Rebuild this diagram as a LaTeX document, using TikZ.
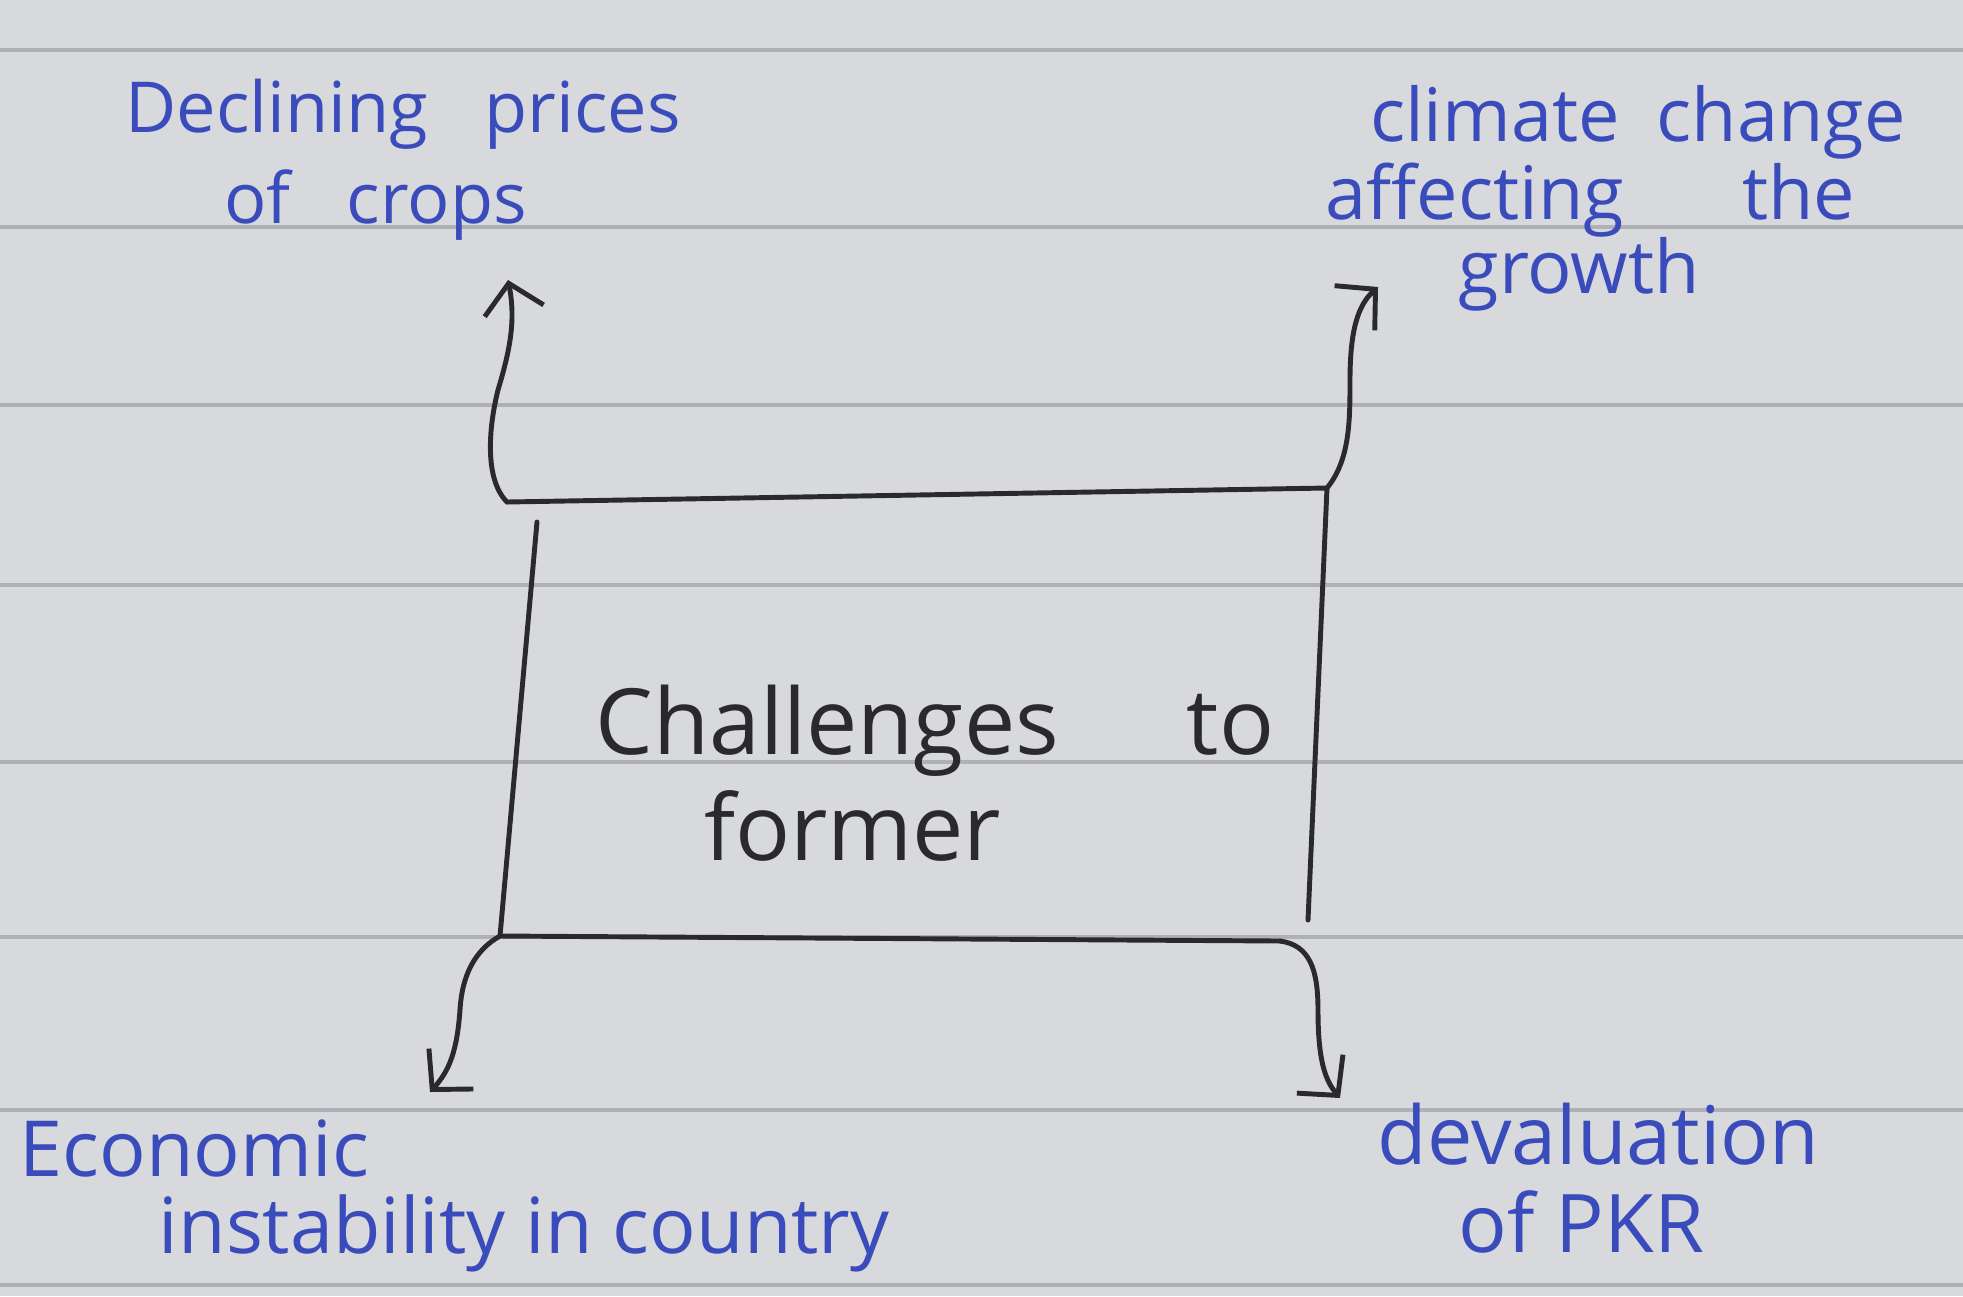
\documentclass[tikz,border=0pt]{standalone}
\usepackage{fontspec}
\setmainfont{Open Sans}
\usetikzlibrary{arrows.meta}

\begin{document}
\begin{tikzpicture}[x=0.01cm, y=-0.01cm]
    \definecolor{paperColour}{HTML}{D8D9DD}
    \definecolor{ruleColour}{HTML}{B0B1B6}
    \definecolor{inkBlue}{HTML}{3A4CBC}
    \definecolor{inkBlack}{HTML}{2A2A2C}

    \tikzset{
        causeText/.style={text=inkBlue, align=left, anchor=west, inner sep=0pt,
            font=\fontsize{20}{22}\selectfont},
        ink/.style={draw=inkBlack, line width=1.4pt, line cap=round, line join=round},
        causeArrow/.style={ink, -{Straight Barb[length=2.8mm, width=6mm]}}
    }

    % Paper and its ruled lines
    \useasboundingbox (0,0) rectangle (1963,1296);
    \fill[paperColour] (0,0) rectangle (1963,1296);
    \foreach \y in {50,227,405,585,762,937,1110,1285}
        \draw[ruleColour, line width=0.9pt] (0,\y) -- (1963,\y);

    % Box corners
    \coordinate (boxTL) at (507,502);
    \coordinate (boxTR) at (1327,488);
    \coordinate (boxBR) at (1280,941);
    \coordinate (boxBL) at (500,936);
    \coordinate (leftTop) at (537,522);
    \coordinate (rightBottom) at (1308,920);

    % Box
    \draw[ink] (boxTL) -- (boxTR);
    \draw[ink] (boxBL) -- (boxBR);
    \draw[ink] (leftTop) -- (boxBL);
    \draw[ink] (boxTR) -- (rightBottom);

    \node[text=inkBlack, align=center, font=\fontsize{26}{30}\selectfont] (challenges) at (935,773)
        {Challenges\hspace{1.4em}to\\former\hspace*{1.8em}};

    % Arrow tips
    \coordinate (tipCrops) at (508,280);
    \coordinate (tipClimate) at (1378,287);
    \coordinate (tipEconomy) at (430,1092);
    \coordinate (tipRupee) at (1340,1098);

    % Arrows out of the box corners
    \draw[causeArrow] (boxTL) .. controls (485,480) and (488,430) .. (498,390)
        .. controls (510,350) and (516,320) .. (tipCrops);
    \draw[causeArrow] (boxTR) .. controls (1350,460) and (1350,420) .. (1350,380)
        .. controls (1350,330) and (1358,305) .. (tipClimate);
    \draw[causeArrow] (boxBL) .. controls (475,950) and (462,975) .. (460,1010)
        .. controls (457,1050) and (450,1070) .. (tipEconomy);
    \draw[causeArrow] (boxBR) .. controls (1310,945) and (1318,970) .. (1318,1010)
        .. controls (1318,1060) and (1325,1080) .. (tipRupee);

    % Labels
    \node[causeText, font=\fontsize{20}{26}\selectfont] (crops) at (125,160)
        {Declining\hspace{0.8em}prices\\\hspace*{1.4em}of\hspace{0.8em}crops};
    \node[causeText, font=\fontsize{21}{21}\selectfont] (climate) at (1325,198)
        {\hspace*{0.6em}climate\hspace{0.5em}change\\affecting\hspace{1.6em}the\\\hspace*{1.8em}growth};
    \node[causeText, font=\fontsize{22}{22}\selectfont] (economy) at (19,1196)
        {Economic\\\hspace*{1.8em}instability in country};
    \node[causeText, font=\fontsize{23}{25}\selectfont] (rupee) at (1377,1178)
        {devaluation\\\hspace*{1em}of PKR};

\end{tikzpicture}
\end{document}
